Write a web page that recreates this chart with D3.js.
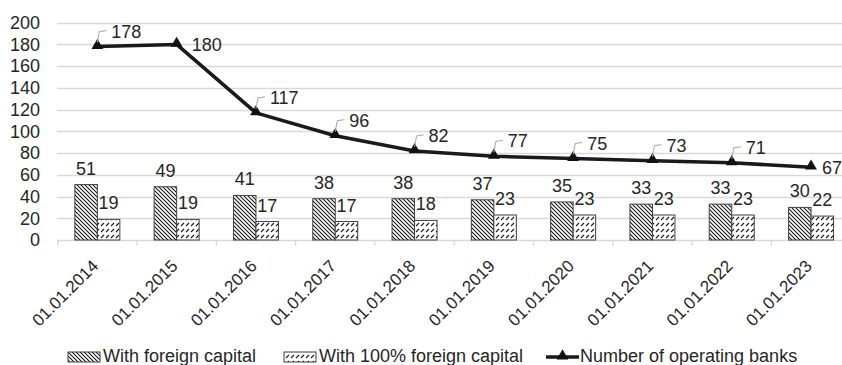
<!DOCTYPE html>
<html>
<head>
<meta charset="utf-8">
<script src="https://cdn.jsdelivr.net/npm/d3@7/dist/d3.min.js"></script>
<style>
  html, body { margin: 0; padding: 0; background: #fff; }
  svg { display: block; }
</style>
</head>
<body>
<svg id="chart" width="842" height="365"></svg>
<script>
// Banking sector: number of operating banks and banks with foreign capital
const dates = ["01.01.2014", "01.01.2015", "01.01.2016", "01.01.2017", "01.01.2018",
               "01.01.2019", "01.01.2020", "01.01.2021", "01.01.2022", "01.01.2023"];
const foreignCapital = [51, 49, 41, 38, 38, 37, 35, 33, 33, 30];
const fullForeignCapital = [19, 19, 17, 17, 18, 23, 23, 23, 23, 22];
const operatingBanks = [178, 180, 117, 96, 82, 77, 75, 73, 71, 67];
const yTicks = [0, 20, 40, 60, 80, 100, 120, 140, 160, 180, 200];
// labels of the line that sit to the right of the marker instead of on a leader
const plainLabelIdx = [1, 9];

const FONT = "'Liberation Sans', Arial, sans-serif";
const TXT = "#262626";
const svg = d3.select("#chart");
const W = 842;

const x = d3.scaleBand().domain(dates).range([57.7, 850.7]).paddingInner(0).paddingOuter(0);
const y = d3.scaleLinear().domain([0, 200]).range([240, 22.7]);
const barW = 22.5;

function txt(sel, size = 18) {
  return sel.style("font-family", FONT).attr("fill", TXT).attr("font-size", size);
}

// hatch patterns
const defs = svg.append("defs");
const p1 = defs.append("pattern").attr("id", "hatchDown")
  .attr("patternUnits", "userSpaceOnUse").attr("width", 4).attr("height", 4);
p1.append("rect").attr("width", 4).attr("height", 4).attr("fill", "#fff");
p1.append("path").attr("d", "M-1,-1 L5,5 M-1,3 L1,5 M3,-1 L5,1")
  .attr("stroke", "#1a1a1a").attr("stroke-width", 1.1);

const p2 = defs.append("pattern").attr("id", "dashUp")
  .attr("patternUnits", "userSpaceOnUse").attr("width", 5).attr("height", 6);
p2.append("rect").attr("width", 5).attr("height", 6).attr("fill", "#fff");
p2.append("path").attr("d", "M1,4 L4,1")
  .attr("stroke", "#1a1a1a").attr("stroke-width", 1.1);

// gridlines
svg.append("g").selectAll("line").data(yTicks.filter(d => d > 0)).join("line")
  .attr("x1", 57).attr("x2", W)
  .attr("y1", d => Math.round(y(d)) + 0.5).attr("y2", d => Math.round(y(d)) + 0.5)
  .attr("stroke", "#d9d9d9").attr("stroke-width", 1.3);

// y tick labels
svg.append("g").selectAll("text").data(yTicks).join("text")
  .call(txt)
  .attr("x", 40).attr("y", d => y(d)).attr("dy", "0.35em")
  .attr("text-anchor", "end").text(d => d);

// category axis
const xAxisG = svg.append("g").attr("transform", `translate(0,${Math.round(y(0)) + 0.5})`);
xAxisG.append("line").attr("x1", 57).attr("x2", W).attr("stroke", "#d9d9d9").attr("stroke-width", 1.3);
xAxisG.selectAll("line.tick").data(dates).join("line").attr("class", "tick")
  .attr("x1", d => x(d)).attr("x2", d => x(d)).attr("y1", 0).attr("y2", 5)
  .attr("stroke", "#d9d9d9").attr("stroke-width", 1.3);

svg.append("g").selectAll("text").data(dates).join("text")
  .call(txt, 17)
  .attr("text-anchor", "end")
  .attr("transform", d => `translate(${x(d) + x.bandwidth() / 2 + 2},${y(0) + 27}) rotate(-45)`)
  .text(d => d);

// bars
const bars = svg.append("g");
bars.selectAll("rect.f").data(foreignCapital).join("rect").attr("class", "f")
  .attr("x", (d, i) => x(dates[i]) + x.bandwidth() / 2 - barW)
  .attr("y", d => y(d)).attr("width", barW).attr("height", d => y(0) - y(d))
  .attr("fill", "url(#hatchDown)").attr("stroke", "#404040").attr("stroke-width", 1);
bars.selectAll("rect.h").data(fullForeignCapital).join("rect").attr("class", "h")
  .attr("x", (d, i) => x(dates[i]) + x.bandwidth() / 2)
  .attr("y", d => y(d)).attr("width", barW).attr("height", d => y(0) - y(d))
  .attr("fill", "url(#dashUp)").attr("stroke", "#404040").attr("stroke-width", 1);

// bar value labels
bars.selectAll("text.fl").data(foreignCapital).join("text").attr("class", "fl")
  .call(txt)
  .attr("x", (d, i) => x(dates[i]) + x.bandwidth() / 2 - barW / 2)
  .attr("y", d => y(d) - 10).attr("text-anchor", "middle").text(d => d);
bars.selectAll("text.hl").data(fullForeignCapital).join("text").attr("class", "hl")
  .call(txt)
  .attr("x", (d, i) => x(dates[i]) + x.bandwidth() / 2 + barW / 2)
  .attr("y", d => y(d) - 10).attr("text-anchor", "middle").text(d => d);

// line of operating banks
const cx = i => x(dates[i]) + x.bandwidth() / 2;
const line = d3.line().x((d, i) => cx(i)).y(d => y(d));
svg.append("path").datum(operatingBanks).attr("d", line)
  .attr("fill", "none").attr("stroke", "#1a1a1a").attr("stroke-width", 3.5)
  .attr("stroke-linejoin", "round");

const tri = d3.symbol().type(d3.symbolTriangle).size(60);
svg.append("g").selectAll("path").data(operatingBanks).join("path")
  .attr("d", tri).attr("transform", (d, i) => `translate(${cx(i)},${y(d) - 1})`)
  .attr("fill", "#111");

// leader lines and labels
const lbl = svg.append("g");
operatingBanks.forEach((v, i) => {
  const px = cx(i), py = y(v);
  if (plainLabelIdx.includes(i)) {
    lbl.append("text").call(txt)
      .attr("x", px + (i === dates.length - 1 ? 11 : 15)).attr("y", py + 7).text(v);
  } else {
    lbl.append("path").attr("d", `M${px},${py - 4} L${px + 2},${py - 15} L${px + 9},${py - 16}`)
      .attr("fill", "none").attr("stroke", "#a6a6a6").attr("stroke-width", 1);
    lbl.append("text").call(txt).attr("x", px + 14).attr("y", py - 9).text(v);
  }
});

// legend
const leg = svg.append("g");
const legY = 362;
leg.append("rect").attr("x", 68).attr("y", 352).attr("width", 32).attr("height", 10)
  .attr("fill", "url(#hatchDown)").attr("stroke", "#404040");
leg.append("text").call(txt).attr("x", 103).attr("y", legY).text("With foreign capital");
leg.append("rect").attr("x", 284).attr("y", 352).attr("width", 32).attr("height", 10)
  .attr("fill", "url(#dashUp)").attr("stroke", "#404040");
leg.append("text").call(txt).attr("x", 319).attr("y", legY).text("With 100% foreign capital");
leg.append("line").attr("x1", 546).attr("x2", 579).attr("y1", 357).attr("y2", 357)
  .attr("stroke", "#1a1a1a").attr("stroke-width", 3.5);
leg.append("path").attr("d", tri).attr("transform", "translate(562.5,356)").attr("fill", "#111");
leg.append("text").call(txt).attr("x", 580).attr("y", legY).text("Number of operating banks");
</script>
</body>
</html>
